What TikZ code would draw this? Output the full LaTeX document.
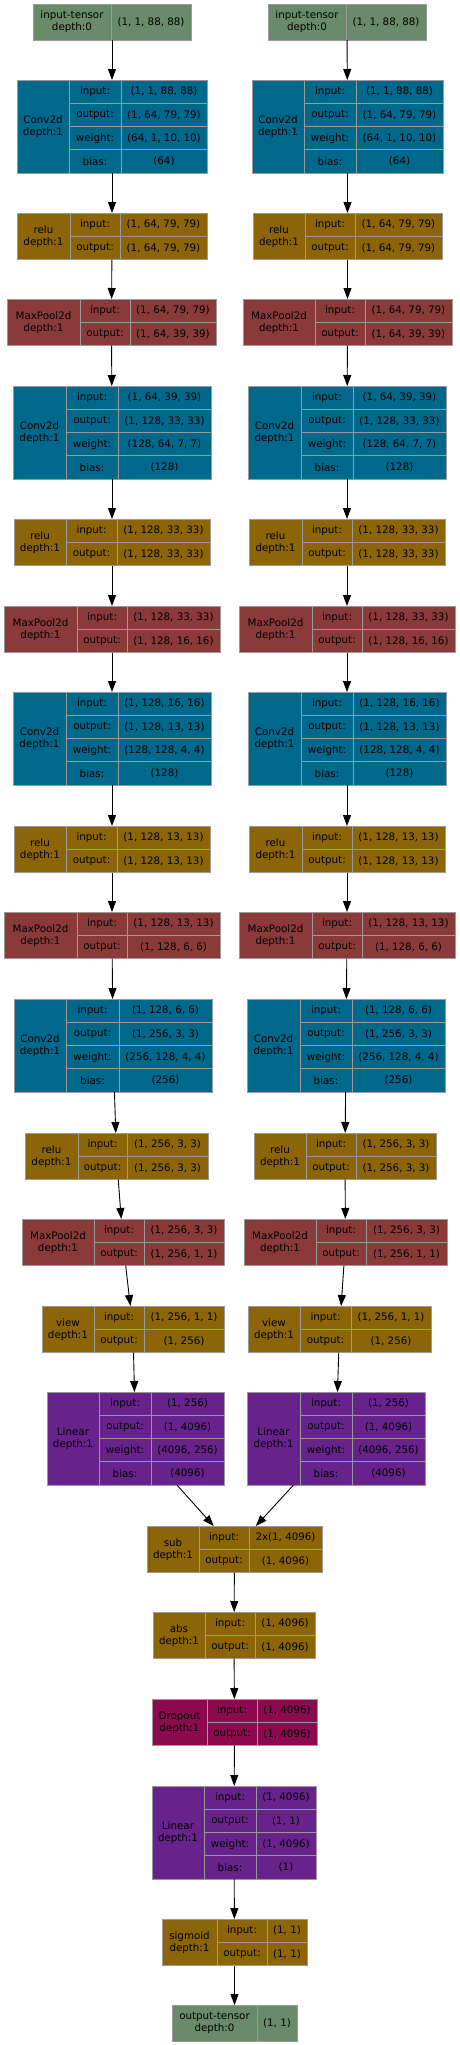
\documentclass[tikz,border=0pt]{standalone}
\usepackage{fontspec}
\setmainfont{DejaVu Sans}
\usetikzlibrary{arrows.meta}

\definecolor{tensorc}{HTML}{698B69}
\definecolor{convc}{HTML}{00688B}
\definecolor{funcc}{HTML}{8B6508}
\definecolor{poolc}{HTML}{8B3A3A}
\definecolor{linc}{HTML}{68228B}
\definecolor{dropc}{HTML}{8B0A50}
\definecolor{cellgray}{HTML}{9A9A9A}

\def\rowh{23.3}

% name, x1, divider, x2, top, title, shape
\newcommand{\tensorbox}[7]{
    \draw[cell, fill=tensorc] (#2,#5) rectangle (#3,#5+36);
    \draw[cell, fill=tensorc] (#3,#5) rectangle (#4,#5+36);
    \node[txt] at ({(#2+#3)/2},#5+18) {#6\\depth:0};
    \node[txt] at ({(#3+#4)/2},#5+18) {#7};
    \node[inner sep=0pt, outer sep=0pt, minimum width={(#4-#2)*1pt}, minimum height=36pt,
        anchor=north west] (#1) at (#2,#5) {};
}

% name, colour, x1, divider 1, divider 2, x2, top, title, rows
\newcommand{\layerbox}[9]{
    \foreach \rowname/\rowval [count=\i] in {#9} {
        \draw[cell, fill=#2] (#4,{#7+(\i-1)*\rowh}) rectangle (#5,{#7+\i*\rowh});
        \draw[cell, fill=#2] (#5,{#7+(\i-1)*\rowh}) rectangle (#6,{#7+\i*\rowh});
        \node[txt] at ({(#4+#5)/2},{#7+(\i-0.5)*\rowh}) {\rowname};
        \node[txt] at ({(#5+#6)/2},{#7+(\i-0.5)*\rowh}) {\rowval};
        \xdef\nrows{\i}
    }
    \draw[cell, fill=#2] (#3,#7) rectangle (#4,{#7+\nrows*\rowh});
    \node[txt] at ({(#3+#4)/2},{#7+\nrows*\rowh/2}) {#8\\depth:1};
    \node[inner sep=0pt, outer sep=0pt, minimum width={(#6-#3)*1pt},
        minimum height={\nrows*\rowh*1pt}, anchor=north west] (#1) at (#3,#7) {};
}

\begin{document}
\begin{tikzpicture}[x=1pt, y=-1pt,
        font=\fontsize{10.3}{12}\selectfont,
        cell/.style={draw=cellgray, line width=0.9pt},
        txt/.style={inner sep=0pt, align=center},
        arr/.style={line width=0.9pt, -{Triangle[length=11pt, width=8pt]}}
        ]
    \useasboundingbox[fill=white] (0,0) rectangle (460,2045);

    % left branch
    \tensorbox{inA}{33}{111}{191}{4}{input-tensor}{(1, 1, 88, 88)}
    \layerbox{conv1A}{convc}{17}{69}{121}{207}{80}{Conv2d}{input:/{(1, 1, 88, 88)}, output:/{(1, 64, 79, 79)}, weight:/{(64, 1, 10, 10)}, bias:/{(64)}}
    \layerbox{relu1A}{funcc}{17}{70}{120}{207}{213}{relu}{input:/{(1, 64, 79, 79)}, output:/{(1, 64, 79, 79)}}
    \layerbox{pool1A}{poolc}{7}{80}{130}{216}{299}{MaxPool2d}{input:/{(1, 64, 79, 79)}, output:/{(1, 64, 39, 39)}}
    \layerbox{conv2A}{convc}{13}{66}{118}{211}{386}{Conv2d}{input:/{(1, 64, 39, 39)}, output:/{(1, 128, 33, 33)}, weight:/{(128, 64, 7, 7)}, bias:/{(128)}}
    \layerbox{relu2A}{funcc}{14}{66}{117}{210}{519}{relu}{input:/{(1, 128, 33, 33)}, output:/{(1, 128, 33, 33)}}
    \layerbox{pool2A}{poolc}{4}{77}{127}{220}{606}{MaxPool2d}{input:/{(1, 128, 33, 33)}, output:/{(1, 128, 16, 16)}}
    \layerbox{conv3A}{convc}{13}{66}{118}{211}{692}{Conv2d}{input:/{(1, 128, 16, 16)}, output:/{(1, 128, 13, 13)}, weight:/{(128, 128, 4, 4)}, bias:/{(128)}}
    \layerbox{relu3A}{funcc}{14}{66}{117}{210}{826}{relu}{input:/{(1, 128, 13, 13)}, output:/{(1, 128, 13, 13)}}
    \layerbox{pool3A}{poolc}{4}{77}{127}{220}{912}{MaxPool2d}{input:/{(1, 128, 13, 13)}, output:/{(1, 128, 6, 6)}}
    \layerbox{conv4A}{convc}{14}{66}{119}{212}{999}{Conv2d}{input:/{(1, 128, 6, 6)}, output:/{(1, 256, 3, 3)}, weight:/{(256, 128, 4, 4)}, bias:/{(256)}}
    \layerbox{relu4A}{funcc}{25}{78}{127}{208}{1133}{relu}{input:/{(1, 256, 3, 3)}, output:/{(1, 256, 3, 3)}}
    \layerbox{pool4A}{poolc}{22}{94}{144}{224}{1219}{MaxPool2d}{input:/{(1, 256, 3, 3)}, output:/{(1, 256, 1, 1)}}
    \layerbox{viewA}{funcc}{42}{94}{144}{224}{1306}{view}{input:/{(1, 256, 1, 1)}, output:/{(1, 256)}}
    \layerbox{fcA}{linc}{47}{99}{151}{224}{1392}{Linear}{input:/{(1, 256)}, output:/{(1, 4096)}, weight:/{(4096, 256)}, bias:/{(4096)}}

    % right branch
    \tensorbox{inB}{268}{346}{426}{4}{input-tensor}{(1, 1, 88, 88)}
    \layerbox{conv1B}{convc}{252}{304}{356}{443}{80}{Conv2d}{input:/{(1, 1, 88, 88)}, output:/{(1, 64, 79, 79)}, weight:/{(64, 1, 10, 10)}, bias:/{(64)}}
    \layerbox{relu1B}{funcc}{253}{305}{355}{442}{213}{relu}{input:/{(1, 64, 79, 79)}, output:/{(1, 64, 79, 79)}}
    \layerbox{pool1B}{poolc}{243}{315}{365}{452}{299}{MaxPool2d}{input:/{(1, 64, 79, 79)}, output:/{(1, 64, 39, 39)}}
    \layerbox{conv2B}{convc}{248}{301}{353}{446}{386}{Conv2d}{input:/{(1, 64, 39, 39)}, output:/{(1, 128, 33, 33)}, weight:/{(128, 64, 7, 7)}, bias:/{(128)}}
    \layerbox{relu2B}{funcc}{249}{302}{352}{445}{519}{relu}{input:/{(1, 128, 33, 33)}, output:/{(1, 128, 33, 33)}}
    \layerbox{pool2B}{poolc}{239}{312}{362}{455}{606}{MaxPool2d}{input:/{(1, 128, 33, 33)}, output:/{(1, 128, 16, 16)}}
    \layerbox{conv3B}{convc}{248}{301}{353}{446}{692}{Conv2d}{input:/{(1, 128, 16, 16)}, output:/{(1, 128, 13, 13)}, weight:/{(128, 128, 4, 4)}, bias:/{(128)}}
    \layerbox{relu3B}{funcc}{249}{302}{352}{445}{826}{relu}{input:/{(1, 128, 13, 13)}, output:/{(1, 128, 13, 13)}}
    \layerbox{pool3B}{poolc}{239}{312}{362}{455}{912}{MaxPool2d}{input:/{(1, 128, 13, 13)}, output:/{(1, 128, 6, 6)}}
    \layerbox{conv4B}{convc}{247}{300}{352}{445}{999}{Conv2d}{input:/{(1, 128, 6, 6)}, output:/{(1, 256, 3, 3)}, weight:/{(256, 128, 4, 4)}, bias:/{(256)}}
    \layerbox{relu4B}{funcc}{254}{306}{356}{436}{1133}{relu}{input:/{(1, 256, 3, 3)}, output:/{(1, 256, 3, 3)}}
    \layerbox{pool4B}{poolc}{244}{316}{366}{447}{1219}{MaxPool2d}{input:/{(1, 256, 3, 3)}, output:/{(1, 256, 1, 1)}}
    \layerbox{viewB}{funcc}{248}{300}{351}{431}{1306}{view}{input:/{(1, 256, 1, 1)}, output:/{(1, 256)}}
    \layerbox{fcB}{linc}{247}{300}{352}{425}{1392}{Linear}{input:/{(1, 256)}, output:/{(1, 4096)}, weight:/{(4096, 256)}, bias:/{(4096)}}

    % head
    \layerbox{sub}{funcc}{147}{199}{249}{322}{1526}{sub}{input:/{2x(1, 4096)}, output:/{(1, 4096)}}
    \layerbox{abs}{funcc}{153}{205}{255}{315}{1612}{abs}{input:/{(1, 4096)}, output:/{(1, 4096)}}
    \layerbox{drop}{dropc}{152}{207}{257}{317}{1699}{Dropout}{input:/{(1, 4096)}, output:/{(1, 4096)}}
    \layerbox{fc}{linc}{152}{204}{256}{316}{1786}{Linear}{input:/{(1, 4096)}, output:/{(1, 1)}, weight:/{(1, 4096)}, bias:/{(1)}}
    \layerbox{sig}{funcc}{162}{217}{267}{307}{1919}{sigmoid}{input:/{(1, 1)}, output:/{(1, 1)}}
    \tensorbox{out}{172}{257}{297}{2005}{output-tensor}{(1, 1)}

    \foreach \s in {A,B} {
        \foreach \a/\b in {in/conv1, conv1/relu1, relu1/pool1, pool1/conv2, conv2/relu2, relu2/pool2,
                pool2/conv3, conv3/relu3, relu3/pool3, pool3/conv4, conv4/relu4, relu4/pool4,
                pool4/view, view/fc}
            \draw[arr] (\a\s) -- (\b\s);
        \draw[arr] (fc\s) -- (sub);
    }
    \foreach \a/\b in {sub/abs, abs/drop, drop/fc, fc/sig, sig/out}
        \draw[arr] (\a) -- (\b);
\end{tikzpicture}
\end{document}
